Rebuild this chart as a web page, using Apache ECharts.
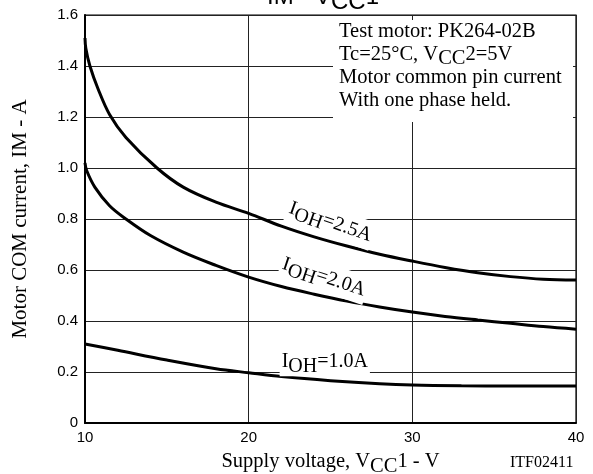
<!DOCTYPE html>
<html>
<head>
<meta charset="utf-8">
<script src="https://cdn.jsdelivr.net/npm/echarts@6/dist/echarts.min.js"></script>
<style>html,body{margin:0;padding:0;background:#fff}#c{width:593px;height:474px}</style>
</head>
<body>
<div id="c"></div>
<script>
// ---- data ----
const xTicks = [10, 20, 30, 40];
const yTicks = [0, 0.2, 0.4, 0.6, 0.8, 1.0, 1.2, 1.4, 1.6];
const vcc = {
  ioh25: [10, 10.05, 10.3, 10.8, 11.5, 12.5, 14.4, 16, 18, 20, 22, 24, 26, 28, 30, 32, 34, 36, 38, 40],
  ioh20: [10, 10.1, 10.6, 11.5, 12.5, 14, 16, 18, 20, 22, 24, 26, 28, 30, 32, 34, 36, 38, 40],
  ioh10: [10, 12, 15, 18, 20, 22, 25, 28, 30, 33, 36, 40]
};
const im25 = [1.51, 1.47, 1.40, 1.31, 1.21, 1.12, 1.0, 0.925, 0.866, 0.822, 0.772, 0.73, 0.694, 0.662, 0.635, 0.61, 0.589, 0.574, 0.564, 0.561];
const im20 = [1.02, 0.99, 0.925, 0.852, 0.80, 0.735, 0.67, 0.618, 0.572, 0.535, 0.505, 0.478, 0.455, 0.435, 0.418, 0.404, 0.391, 0.378, 0.368];
const im10 = [0.31, 0.285, 0.247, 0.213, 0.197, 0.182, 0.166, 0.154, 0.149, 0.146, 0.145, 0.145];
const seriesNames = ['IOH=2.5A', 'IOH=2.0A', 'IOH=1.0A'];
const boxLines = [
  'Test motor: PK264-02B',
  'Tc=25°C, V{s|CC}2=5V',
  'Motor common pin current',
  'With one phase held.'
];

const zip = (xs, ys) => xs.map((x, i) => [x, ys[i]]);
const serif = '"Liberation Serif", "Times New Roman", serif';
const sans = '"Liberation Sans", Arial, sans-serif';

const chart = echarts.init(document.getElementById('c'), null, {renderer: 'canvas'});

function mkSeries(name, data) {
  return {
    name, type: 'line', data, smooth: 0.35,
    showSymbol: false, symbol: 'none', silent: true,
    lineStyle: {color: '#000', width: 3}
  };
}

const option = {
  animation: false,
  backgroundColor: '#fff',
  grid: {left: 85, right: 17, top: 15, bottom: 51, show: true, borderColor: '#000', borderWidth: 1.2,
    containLabel: false, outerBoundsMode: 'none'},
  xAxis: {
    type: 'value', min: 10, max: 40, interval: 10,
    axisLine: {show: true, onZero: false, lineStyle: {color: '#000', width: 2}},
    axisTick: {show: false},
    splitLine: {show: true, lineStyle: {color: '#222', width: 1}},
    axisLabel: {color: '#000', fontFamily: sans, fontSize: 15, margin: 7,
      formatter: v => xTicks.includes(v) ? String(v) : ''},
    name: 'Supply voltage, V{s|CC}1 - V',
    nameLocation: 'middle', nameGap: 24,
    nameTextStyle: {color: '#000', fontFamily: serif, fontSize: 20.5,
      rich: {s: {fontFamily: serif, fontSize: 20.5, padding: [9, 0, 0, 0]}}}
  },
  yAxis: {
    type: 'value', min: 0, max: 1.6, interval: 0.2,
    axisLine: {show: true, onZero: false, lineStyle: {color: '#000', width: 2}},
    axisTick: {show: false},
    splitLine: {show: true, lineStyle: {color: '#222', width: 1}},
    axisLabel: {color: '#000', fontFamily: sans, fontSize: 15, margin: 7,
      formatter: v => { const t = yTicks.find(k => Math.abs(k - v) < 1e-6); return t === undefined ? '' : (t === 0 ? '0' : t.toFixed(1)); }},
    name: 'Motor COM current, IM - A',
    nameLocation: 'middle', nameGap: 54, nameRotate: 90,
    nameTextStyle: {color: '#000', fontFamily: serif, fontSize: 21}
  },
  series: [
    mkSeries(seriesNames[0], zip(vcc.ioh25, im25)),
    mkSeries(seriesNames[1], zip(vcc.ioh20, im20)),
    mkSeries(seriesNames[2], zip(vcc.ioh10, im10))
  ]
};
chart.setOption(option);

// annotation anchors (data coords) for the curve labels
const labelAnchors = [
  {x: 25.0, y: 0.788, rot: -0.34, text: '{n|I}{s|OH}{n|=2.5A}'},
  {x: 24.6, y: 0.572, rot: -0.32, text: '{n|I}{s|OH}{n|=2.0A}'},
  {x: 24.65, y: 0.24, rot: 0, text: '{n|I}{s|OH}{n|=1.0A}'}
];
const richLbl = {
  n: {fontFamily: serif, fontSize: 20, color: '#000'},
  s: {fontFamily: serif, fontSize: 20, color: '#000', padding: [9, 0, 0, 0]}
};

const graphics = [];
// title (cut off at top)
graphics.push({
  type: 'text', left: 267, top: -15, z: 100,
  style: {text: 'IM - V{s|CC}1', fontFamily: sans, fontSize: 24, fill: '#000',
    rich: {s: {fontFamily: sans, fontSize: 24, padding: [10, 0, 0, 0]}}}
});
// info box
graphics.push({type: 'rect', shape: {x: 333, y: 20, width: 240, height: 102}, style: {fill: '#fff'}, z: 90});
graphics.push({
  type: 'text', x: 339, y: 20, z: 100,
  style: {text: boxLines.join('\n'), fontFamily: serif, fontSize: 20.5, fill: '#000', lineHeight: 23,
    rich: {s: {fontFamily: serif, fontSize: 20.5, lineHeight: 23, padding: [8, 0, 0, 0]}}}
});
labelAnchors.forEach(a => {
  const p = chart.convertToPixel({gridIndex: 0}, [a.x, a.y]);
  graphics.push({
    type: 'text', x: p[0], y: p[1], rotation: a.rot, z: 100,
    style: {text: a.text, rich: richLbl, align: 'center', verticalAlign: 'middle',
      backgroundColor: '#fff', padding: [0, 2, 0, 2]}
  });
});
// figure code
graphics.push({
  type: 'text', left: 510, top: 455, z: 100,
  style: {text: 'ITF02411', fontFamily: serif, fontSize: 16, fill: '#000'}
});
chart.setOption({graphic: graphics});
</script>
</body>
</html>
